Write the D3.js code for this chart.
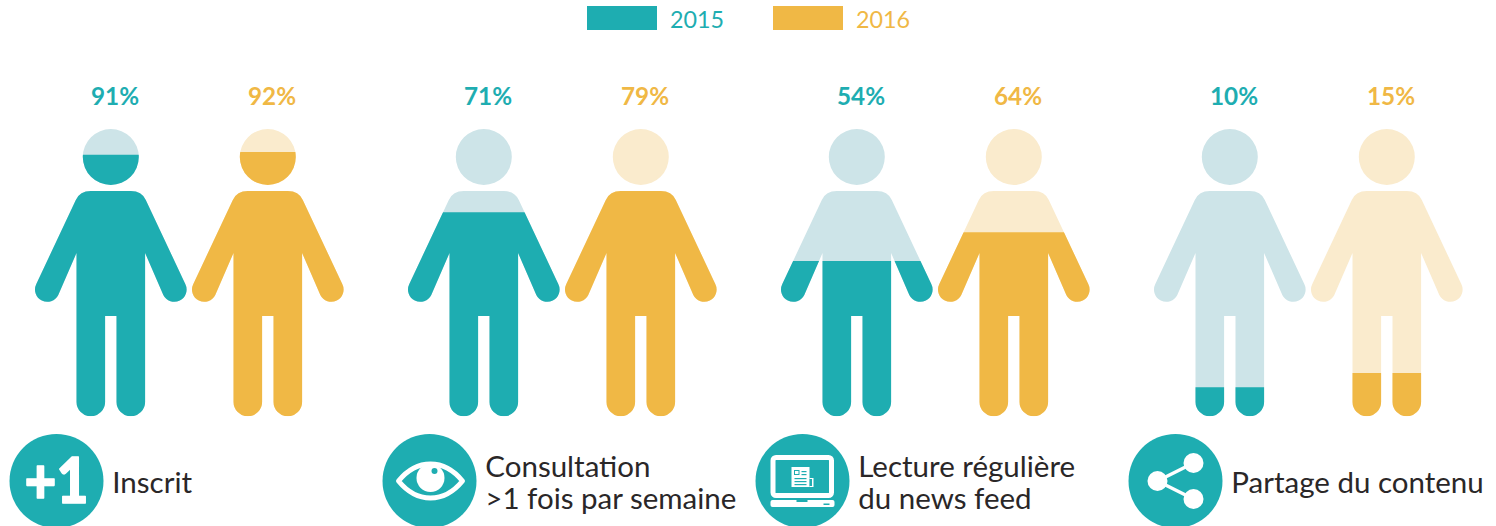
<!DOCTYPE html>
<html><head><meta charset="utf-8">
<script src="https://cdn.jsdelivr.net/npm/d3@7/dist/d3.min.js"></script>
<style>html,body{margin:0;padding:0;background:#fff;overflow:hidden}svg{display:block}text{font-family:Lato,"Open Sans",sans-serif}</style>
</head><body><svg id="c" width="1496" height="526"></svg>
<script>
const years = ["2015", "2016"];
const categories = ["Inscrit", "Consultation|>1 fois par semaine", "Lecture régulière|du news feed", "Partage du contenu"];
const values2015 = [91, 71, 54, 10];
const values2016 = [92, 79, 64, 15];
const iconKinds = ["plus", "eye", "laptop", "share"];
const colors = ["#1eadb1", "#f0b845"];
const lightColors = ["#cde4e8", "#faebcd"];

const svg = d3.select("#c");
const color = d3.scaleOrdinal(years, colors);
const light = d3.scaleOrdinal(years, lightColors);
const xGroup = d3.scalePoint(categories, [110.8, 1229.8]);
const xPair = d3.scalePoint(years, [0, 157]);
const y = d3.scaleLinear([0, 100], [416, 129]);

const person = "M-28,157 a28,28 0 1,0 56,0 a28,28 0 1,0 -56,0 Z" +
 "M-20,191 L20,191 Q31,191 35,200 L74.5,284 A12.2,12.2 0 0 1 52.5,295 L34.3,253 L34.3,402 A14.3,14.3 0 0 1 5.7,402 L5.7,316 L-5.7,316 L-5.7,402 A14.3,14.3 0 0 1 -34.3,402 L-34.3,253 L-52.5,295 A12.2,12.2 0 0 1 -74.5,284 L-35,200 Q-31,191 -20,191 Z";

const rows = categories.flatMap((c, i) => [
  {c, i, year: years[0], v: values2015[i]},
  {c, i, year: years[1], v: values2016[i]}
]);
const defs = svg.append("defs");
rows.forEach((d, k) => {
  defs.append("clipPath").attr("id", "clip" + k).append("rect")
    .attr("x", -90).attr("width", 180)
    .attr("y", y(d.v)).attr("height", y(0) - y(d.v));
});
const g = svg.selectAll("g.person").data(rows).join("g").attr("class", "person")
  .attr("transform", d => `translate(${xGroup(d.c) + xPair(d.year)},0)`);
g.append("path").attr("d", person).attr("fill", d => light(d.year));
g.append("path").attr("d", person).attr("fill", d => color(d.year))
  .attr("clip-path", (d, k) => `url(#clip${k})`);
g.append("text").attr("x", 4.2).attr("y", 105).attr("text-anchor", "middle")
  .attr("font-size", 24.3).attr("font-weight", 700)
  .attr("fill", d => color(d.year)).text(d => d.v + "%");

// legend
const legX = d3.scalePoint(years, [587, 773]);
const leg = svg.selectAll("g.leg").data(years).join("g").attr("class", "leg")
  .attr("transform", d => `translate(${legX(d)},6)`);
leg.append("rect").attr("width", 70).attr("height", 24).attr("fill", d => color(d));
leg.append("text").attr("x", 83).attr("y", 22).attr("font-size", 23.3).attr("fill", d => color(d)).text(d => d);

// bottom icons and labels
const iconX = d3.scalePoint(categories, [56.5, 1175.5]);
const ic = svg.selectAll("g.icon").data(categories).join("g").attr("class", "icon")
  .attr("transform", d => `translate(${iconX(d)},481)`);
ic.append("circle").attr("r", 47).attr("fill", colors[0]);
ic.each(function (d, i) {
  const s = d3.select(this), k = iconKinds[i], T = colors[0];
  const rect = (x, y, w, h, f) => s.append("rect").attr("x", x).attr("y", y).attr("width", w).attr("height", h).attr("fill", f);
  if (k === "plus") {
    s.append("text").attr("x", -32).attr("y", 22).attr("textLength", 64).attr("lengthAdjust", "spacingAndGlyphs")
      .attr("font-size", 62).attr("font-weight", 900).attr("fill", "#fff")
      .attr("stroke", "#fff").attr("stroke-width", 1.6).attr("stroke-linejoin", "round").text("+1");
  } else if (k === "eye") {
    const e = s.append("g").attr("transform", "translate(1,0)");
    e.append("path").attr("d", "M-32,0 C-23,-11 -12,-17 0,-17 C12,-17 23,-11 32,0 C23,11 12,17 0,17 C-12,17 -23,11 -32,0 Z")
      .attr("fill", "none").attr("stroke", "#fff").attr("stroke-width", 5).attr("stroke-linejoin", "round");
    e.append("circle").attr("cy", -3).attr("r", 14).attr("fill", "#fff");
    e.append("circle").attr("cx", 4).attr("cy", -10).attr("r", 3).attr("fill", T);
  } else if (k === "laptop") {
    s.append("rect").attr("x", -29.5).attr("y", -23.5).attr("width", 58.5).attr("height", 38).attr("rx", 3).attr("fill", "none").attr("stroke", "#fff").attr("stroke-width", 5);
    s.append("rect").attr("x", -32).attr("y", 19).attr("width", 64).attr("height", 7).attr("rx", 2).attr("fill", "#fff");
    rect(-6, 19, 11, 2, T);
    rect(21, 22.5, 6, 1.5, T);
    rect(-11, -14, 18, 20, "#fff");
    rect(7, -3, 4, 9, "#fff");
    rect(7, -2, 2.5, 7, T);
    s.append("rect").attr("x", -8).attr("y", -10.5).attr("width", 4.5).attr("height", 4).attr("fill", "none").attr("stroke", T).attr("stroke-width", 1);
    [[-1, -10], [-1, -7], [-8, -3], [-8, 0], [-8, 3]].forEach(p => rect(p[0], p[1], p[0] < -2 ? 12 : 5, 1.2, T));
  } else {
    s.append("path").attr("d", "M-18,0 L18,-18 M-18,0 L18,18").attr("stroke", "#fff").attr("stroke-width", 3.5).attr("fill", "none");
    [[-18, 0], [18, -18], [18, 18]].forEach(p => s.append("circle").attr("cx", p[0]).attr("cy", p[1]).attr("r", 10).attr("fill", "#fff"));
  }
});

const lab = svg.selectAll("text.lab").data(categories).join("text").attr("class", "lab")
  .attr("font-size", 29.5).attr("fill", "#2a2728");
lab.each(function (d) {
  const lines = d.split("|");
  const ys = lines.length === 1 ? [493] : [477, 509];
  d3.select(this).selectAll("tspan").data(lines).join("tspan")
    .attr("x", iconX(d) + 55.8).attr("y", (l, j) => ys[j]).text(l => l);
});
</script></body></html>
